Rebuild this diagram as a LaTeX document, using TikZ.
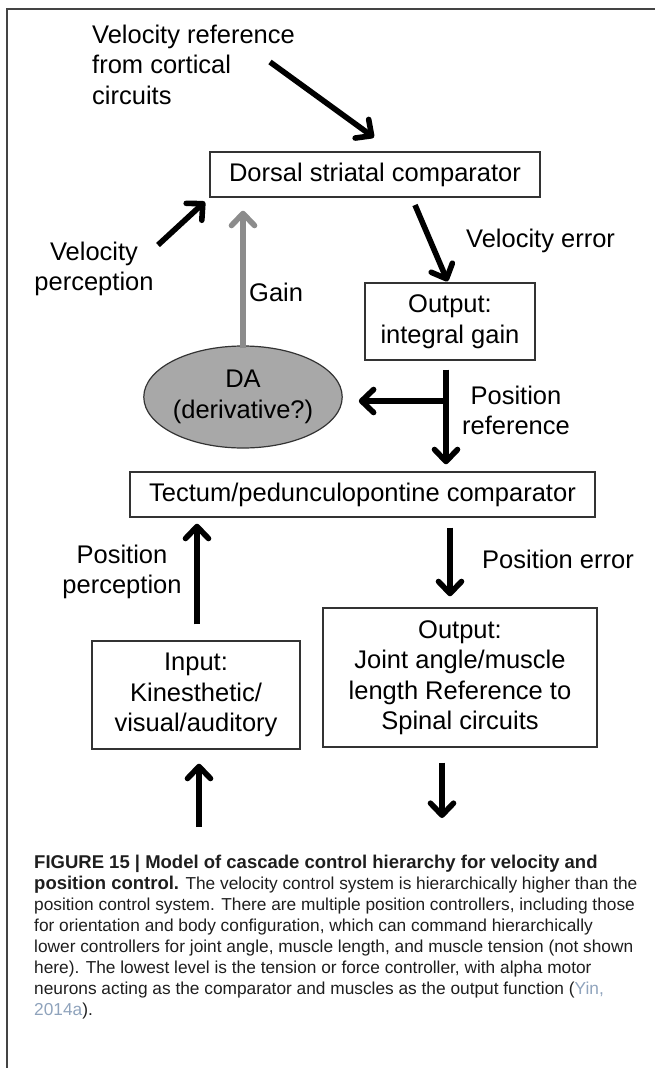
\documentclass[tikz,border=0pt]{standalone}
\usepackage{fontspec}
\setmainfont{Liberation Sans}
\usetikzlibrary{arrows.meta,shapes.geometric,calc}
\definecolor{framegray}{HTML}{444444}
\definecolor{boxline}{HTML}{333333}
\definecolor{gainarrow}{HTML}{8C8C8C}
\definecolor{dafill}{HTML}{A8A8A8}
\definecolor{citeblue}{HTML}{8FA3BC}
\definecolor{captext}{HTML}{1E1E1E}
\tikzset{
  diagfont/.style={font=\fontsize{25.5}{30.5}\selectfont},
  stagebox/.style={draw=boxline, line width=1.4pt, fill=white, inner sep=0pt,
    align=center, diagfont},
  lbl/.style={inner sep=0pt, diagfont},
  flow/.style={line width=5.6pt, draw=black,
    -{Straight Barb[length=12pt,width=23pt,round]}},
  gainflow/.style={flow, draw=gainarrow},
}
\newcommand{\capbold}[1]{{\fontsize{18.5}{21}\selectfont\bfseries #1}}
\begin{document}
\begin{tikzpicture}[x=1pt,y=-1pt]
\useasboundingbox (0,0) rectangle (655,1068);
% figure frame
\draw[framegray, line width=2pt] (655,9) -- (7,9) -- (7,1068);

% blocks
\node[stagebox, minimum width=330, minimum height=45] (dsc) at (375,174.5) {Dorsal striatal comparator};
\node[stagebox, minimum width=170, minimum height=77] (oig) at (450,321.5) {Output:\\integral gain};
\node[draw=boxline, line width=1.2pt, fill=dafill, ellipse, minimum width=170, minimum height=102,
      inner sep=0pt, align=center, diagfont] (da) at (243,397) {DA\\(derivative?)};
\node[stagebox, minimum width=465, minimum height=45] (tect) at (362.5,494.5) {Tectum/pedunculopontine comparator};
\node[stagebox, minimum width=208, minimum height=108] (inp) at (196,695) {Input:\\Kinesthetic/\\visual/auditory};
\node[stagebox, minimum width=274, minimum height=139] (jnt) at (460,677.5) {Output:\\Joint angle/muscle\\length Reference to\\Spinal circuits};

% labels
\node[lbl, anchor=north west, align=left] (vrefl) at (92,24.7) {Velocity reference\\from cortical\\circuits};
\node[lbl, anchor=north, align=center] (vperl) at (94,241.7) {Velocity\\perception};
\node[lbl, anchor=base west] (gainl) at (249,301) {Gain};
\node[lbl, anchor=base west] (verrl) at (466,247) {Velocity error};
\node[lbl, anchor=north, align=center] (prefl) at (516,385.7) {Position\\reference};
\node[lbl, anchor=north, align=center] (pperl) at (122,544.7) {Position\\perception};
\node[lbl, anchor=base west] (perrl) at (482,568) {Position error};

% free ends of the signal arrows
\coordinate (vrTail) at (270,62);
\coordinate (vpTail) at (158,245);
\coordinate (veTail) at (415,205);
\coordinate (split) at (446,401);
\coordinate (sensIn) at (199,827);
\coordinate (motorOut) at (442,818);

% connectors
\draw[flow, shorten >=23.6pt] (vrTail) -- ([xshift=18pt]dsc.north);
\draw[flow, shorten >=6pt] (vpTail) -- (dsc.south west);
\draw[gainflow, shorten <=-3pt, shorten >=13pt] (da.north) -- (da.north |- dsc.south);
\draw[flow, shorten >=1pt] (veTail) -- ([xshift=-2pt]oig.north);
\draw[flow, shorten <=9pt, shorten >=7pt] ([xshift=-4pt]oig.south) -- ([xshift=-4pt]oig.south |- tect.north);
\draw[flow, shorten >=16pt] (split) -- (split -| da.east);
\draw[flow, shorten <=10pt, shorten >=11pt] ([xshift=-10pt]jnt.north |- tect.south) -- ([xshift=-10pt]jnt.north);
\draw[flow, shorten <=16pt, shorten >=6pt] ([xshift=1pt]inp.north) -- ([xshift=1pt]inp.north |- tect.south);
\draw[flow, shorten >=14pt] (sensIn) -- (sensIn |- inp.south);
\draw[flow, shorten <=15pt] (motorOut |- jnt.south) -- (motorOut);

% caption
\node[inner sep=0pt, anchor=north west, align=left, text=captext,
      font=\fontsize{17.3}{21}\selectfont] (cap) at (34,854.6)
{\capbold{FIGURE 15 | Model of cascade control hierarchy for velocity and}\\
\capbold{position control.} The velocity control system is hierarchically higher than the\\
position control system. There are multiple position controllers, including those\\
for orientation and body configuration, which can command hierarchically\\
lower controllers for joint angle, muscle length, and muscle tension (not shown\\
here). The lowest level is the tension or force controller, with alpha motor\\
neurons acting as the comparator and muscles as the output function (\textcolor{citeblue}{Yin,}\\
\textcolor{citeblue}{2014a}).};
\end{tikzpicture}
\end{document}
